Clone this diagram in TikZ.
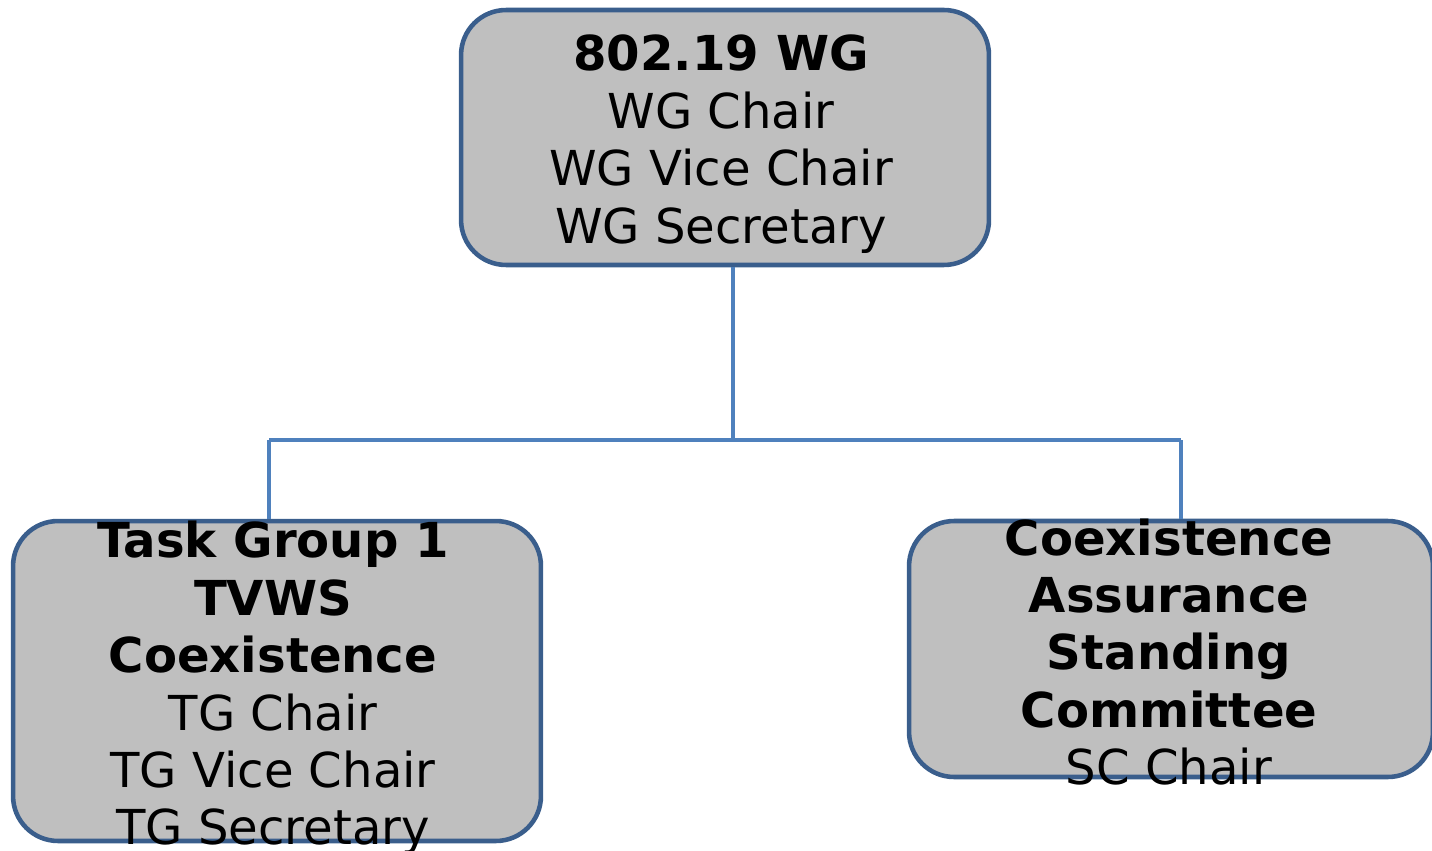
\documentclass[tikz,border=0pt]{standalone}
\usepackage{fontspec}
\setmainfont{DejaVu Sans}
\usepackage{tikz}
\definecolor{boxline}{HTML}{3A5E8C}
\definecolor{boxfill}{HTML}{BFBFBF}
\definecolor{linkblue}{HTML}{4F81BD}

\begin{document}
\begin{tikzpicture}[x=0.02cm,y=-0.02cm,
    box/.style={draw=boxline, line width=2.6pt, fill=boxfill, rounded corners=0.9cm, minimum width=10.56cm, inner sep=0pt},
    txt/.style={align=center, inner sep=0pt, font=\fontsize{27.4}{32.7}\selectfont},
    link/.style={draw=linkblue, line width=2.6pt}]
    \useasboundingbox (0,0) rectangle (1432,851);

    \node[box, minimum height=5.1cm] (WG) at (725,137.5) {};
    \node[box, minimum height=6.4cm] (TG) at (277,681) {};
    \node[box, minimum height=5.12cm, minimum width=10.48cm] (SC) at (1171,649) {};

    \node[txt] (WGt) at (721,144) {\textbf{802.19 WG}\\WG Chair\\WG Vice Chair\\WG Secretary};
    \node[txt] (TGt) at (273,688) {\textbf{Task Group 1}\\\textbf{TVWS}\\\textbf{Coexistence}\\TG Chair\\TG Vice Chair\\TG Secretary};
    \node[txt] (SCt) at (1169,652) {\textbf{Coexistence}\\\textbf{Assurance}\\\textbf{Standing}\\\textbf{Committee}\\SC Chair};

    \coordinate (J) at (733,440);
    \coordinate (L) at (269,440);
    \coordinate (R) at (1181,440);

    \draw[link] (WG.south -| J) -- (J);
    \draw[link] (L) -- (R);
    \draw[link] (L) -- (TG.north -| L);
    \draw[link] (R) -- (SC.north -| R);

\end{tikzpicture}
\end{document}
